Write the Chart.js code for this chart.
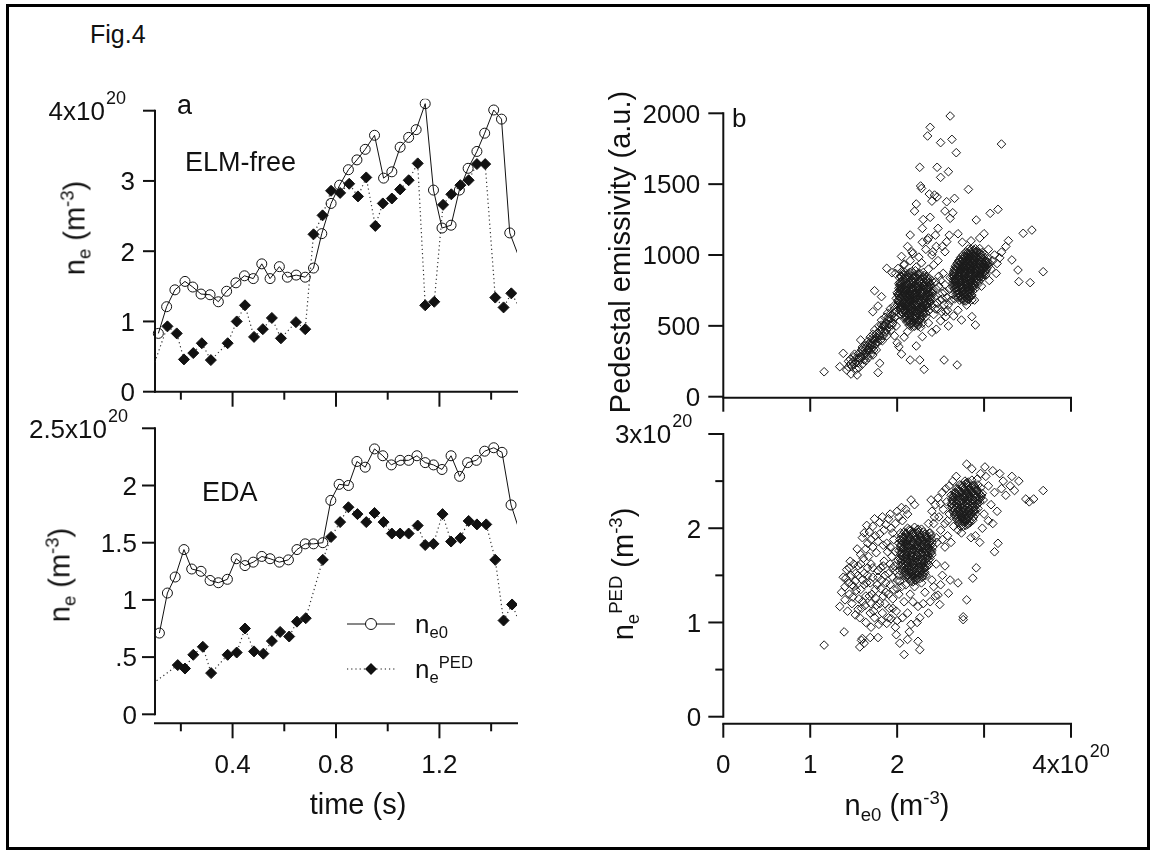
<!DOCTYPE html>
<html>
<head>
<meta charset="utf-8">
<script src="https://cdn.jsdelivr.net/npm/chart.js@4.4.1/dist/chart.umd.min.js"></script>
<style>
  html, body { margin: 0; padding: 0; background: #fff; }
  #fig { position: relative; width: 1157px; height: 859px; overflow: hidden;
         font-family: "Liberation Sans", Arial, sans-serif; color: #111; }
  #frame { position: absolute; left: 6px; top: 4px; width: 1144px; height: 846px;
           border: 3px solid #000; box-sizing: border-box; }
  canvas { position: absolute; }
  .t { position: absolute; white-space: nowrap; line-height: 1; }
  .t sub, .t sup { font-size: 0.64em; position: relative; vertical-align: baseline; line-height: 0; }
  .t sub { top: 0.3em; }
  .t sup { top: -0.62em; }
  .rot { transform: translate(-50%, -50%) rotate(-90deg); }
  .cx { transform: translateX(-50%); }
</style>
</head>
<body>
<div id="fig">
  <div id="frame"></div>
  <canvas id="cTL" width="560" height="330" style="left:0;top:80px"></canvas>
  <canvas id="cBL" width="560" height="420" style="left:0;top:400px"></canvas>
  <canvas id="cTR" width="580" height="340" style="left:560px;top:80px"></canvas>
  <canvas id="cBR" width="580" height="420" style="left:560px;top:400px"></canvas>

  <div class="t" style="left:90px;top:22px;font-size:25px">Fig.4</div>
  <div class="t" style="left:177px;top:92px;font-size:27px">a</div>
  <div class="t" style="left:185px;top:149px;font-size:27px">ELM-free</div>
  <div class="t" style="left:202px;top:479px;font-size:27px">EDA</div>
  <div class="t" style="left:732px;top:105px;font-size:26px">b</div>

  <div class="t rot" style="left:75px;top:228px;font-size:29px">n<sub>e</sub> (m<sup>-3</sup>)</div>
  <div class="t rot" style="left:60px;top:575px;font-size:29px">n<sub>e</sub> (m<sup>-3</sup>)</div>
  <div class="t rot" style="left:620px;top:252px;font-size:29px">Pedestal emissivity (a.u.)</div>
  <div class="t rot" style="left:623px;top:574px;font-size:29px">n<sub>e</sub><sup>PED</sup> (m<sup>-3</sup>)</div>

  <div class="t cx" style="left:358px;top:790px;font-size:29px">time (s)</div>
  <div class="t cx" style="left:897px;top:791px;font-size:29px">n<sub>e0</sub> (m<sup>-3</sup>)</div>

  <div class="t" style="left:415px;top:611px;font-size:26px">n<sub>e0</sub></div>
  <div class="t" style="left:415px;top:656px;font-size:26px">n<sub>e</sub><sup>PED</sup></div>
</div>

<script>
// --- Panel a, ELM-free ---
const elmNe0Time = [0.113,0.145,0.177,0.216,0.246,0.278,0.313,0.345,0.377,0.413,0.446,0.480,0.513,0.545,0.581,0.612,0.646,0.681,0.713,0.745,0.781,0.814,0.848,0.881,0.913,0.949,0.984,1.016,1.048,1.081,1.110,1.145,1.177,1.210,1.245,1.277,1.311,1.345,1.375,1.410,1.440,1.472,1.505];
const elmNe0 = [0.83,1.21,1.45,1.57,1.49,1.39,1.38,1.28,1.43,1.55,1.65,1.61,1.82,1.61,1.78,1.63,1.66,1.63,1.76,2.25,2.68,2.94,3.16,3.30,3.45,3.65,3.04,3.13,3.48,3.62,3.73,4.10,2.87,2.33,2.37,2.87,3.18,3.42,3.68,4.01,3.88,2.26,1.94];
const elmPedTime = [0.083,0.148,0.184,0.212,0.248,0.281,0.316,0.381,0.416,0.448,0.483,0.517,0.552,0.587,0.645,0.681,0.713,0.748,0.781,0.816,0.851,0.885,0.917,0.952,0.981,1.016,1.048,1.081,1.116,1.145,1.180,1.214,1.246,1.281,1.313,1.345,1.377,1.416,1.448,1.478,1.510];
const elmPed = [0.25,0.93,0.83,0.46,0.55,0.69,0.45,0.69,1.00,1.23,0.78,0.89,1.05,0.76,0.99,0.89,2.24,2.51,2.86,2.83,2.96,2.78,3.05,2.36,2.68,2.75,2.88,3.01,3.25,1.23,1.28,2.66,2.81,2.94,3.01,3.24,3.24,1.34,1.20,1.40,1.20];

// --- Panel a, EDA ---
const edaNe0Time = [0.117,0.148,0.178,0.212,0.242,0.278,0.313,0.345,0.380,0.414,0.448,0.480,0.513,0.545,0.581,0.616,0.649,0.681,0.713,0.749,0.780,0.812,0.848,0.881,0.913,0.949,0.981,1.014,1.048,1.081,1.113,1.145,1.177,1.210,1.245,1.278,1.309,1.343,1.375,1.410,1.442,1.477,1.510];
const edaNe0 = [0.71,1.06,1.20,1.44,1.27,1.25,1.17,1.15,1.18,1.36,1.30,1.33,1.38,1.36,1.33,1.35,1.44,1.49,1.49,1.50,1.87,2.01,2.00,2.21,2.16,2.32,2.26,2.18,2.22,2.22,2.26,2.20,2.18,2.14,2.26,2.08,2.20,2.22,2.30,2.33,2.29,1.83,1.60];
const edaPedTime = [0.080,0.188,0.216,0.248,0.285,0.317,0.381,0.416,0.448,0.483,0.519,0.552,0.584,0.619,0.649,0.683,0.749,0.781,0.816,0.848,0.883,0.917,0.949,0.984,1.016,1.048,1.081,1.116,1.145,1.177,1.212,1.245,1.281,1.313,1.345,1.381,1.416,1.448,1.481,1.510];
const edaPed = [0.25,0.43,0.40,0.52,0.59,0.36,0.52,0.54,0.75,0.55,0.53,0.64,0.72,0.68,0.81,0.84,1.35,1.55,1.68,1.81,1.75,1.68,1.76,1.68,1.58,1.58,1.58,1.65,1.48,1.49,1.75,1.51,1.54,1.69,1.66,1.66,1.35,0.82,0.96,0.80];

// --- Panel b, emissivity vs ne0 ([ne0 x1e20, a.u.]) ---
const emisTail = [[1.16,176],[1.34,212],[1.38,306],[1.42,188],[1.44,250],[1.47,160],[1.48,215],[1.50,280],[1.52,240],[1.54,153],[1.55,300],[1.56,205],[1.57,262],[1.58,400],[1.59,330],[1.60,230],[1.61,341],[1.62,290],[1.63,365],[1.64,255],[1.65,318],[1.66,390],[1.67,275],[1.68,345],[1.69,420],[1.70,300],[1.71,380],[1.72,440],[1.72,294],[1.73,355],[1.74,470],[1.75,410],[1.76,330],[1.77,450],[1.78,170],[1.78,385],[1.79,500],[1.80,236],[1.80,430],[1.81,470],[1.82,540],[1.83,395],[1.84,500],[1.85,455],[1.86,560],[1.87,520],[1.88,430],[1.89,590],[1.90,490],[1.91,545],[1.92,620],[1.93,470],[1.94,575],[1.95,520],[1.96,640],[1.97,560],[1.98,600],[1.99,500],[1.53,195],[1.46,230],[1.58,285],[1.63,310],[1.68,380],[1.74,395],[1.79,440],[1.85,505],[1.90,560],[1.70,360],[1.66,330],[1.76,420],[1.74,748],[1.82,706],[1.88,906],[1.94,875],[1.72,600],[1.78,640]];
const emisTailDense = [[1.46,265],[1.49,245],[1.51,300],[1.53,270],[1.55,240],[1.57,310],[1.59,280],[1.61,320],[1.62,260],[1.64,345],[1.65,290],[1.67,330],[1.69,365],[1.70,330],[1.72,400],[1.73,330],[1.75,370],[1.76,440],[1.78,410],[1.80,460],[1.81,400],[1.83,480],[1.84,430],[1.86,500],[1.88,470],[1.89,540],[1.91,510],[1.93,550],[1.94,505],[1.96,590],[1.98,560],[1.60,350],[1.56,275],[1.66,360],[1.71,410],[1.77,390],[1.82,505],[1.87,455],[1.92,585],[1.97,620],[1.50,225],[1.44,210]];
const emisCore1 = [[2.05,882],[2.13,870],[2.21,889],[2.30,876],[2.08,858],[2.17,851],[2.25,862],[2.34,848],[2.03,838],[2.11,832],[2.19,842],[2.28,829],[2.37,836],[2.06,815],[2.14,809],[2.22,821],[2.31,812],[2.40,818],[2.02,797],[2.09,790],[2.16,801],[2.21,786],[2.28,795],[2.35,789],[2.05,772],[2.12,779],[2.18,768],[2.25,776],[2.32,770],[2.38,781],[2.03,752],[2.08,760],[2.15,748],[2.20,757],[2.27,745],[2.33,754],[2.41,748],[2.00,733],[2.06,740],[2.12,728],[2.17,737],[2.23,731],[2.29,726],[2.36,738],[2.02,713],[2.09,719],[2.15,708],[2.20,716],[2.26,703],[2.32,712],[2.39,706],[1.99,694],[2.05,688],[2.11,697],[2.17,685],[2.22,692],[2.28,680],[2.35,689],[2.02,671],[2.08,665],[2.14,674],[2.19,661],[2.25,668],[2.31,659],[2.38,666],[2.00,648],[2.05,641],[2.11,652],[2.16,638],[2.22,645],[2.28,636],[2.34,647],[2.03,625],[2.08,618],[2.13,629],[2.19,615],[2.25,622],[2.31,612],[2.05,600],[2.10,594],[2.16,604],[2.22,591],[2.28,598],[2.36,605],[2.04,578],[2.10,571],[2.15,582],[2.21,568],[2.27,575],[2.33,566],[2.08,553],[2.13,546],[2.19,556],[2.25,543],[2.11,528],[2.17,521],[2.23,530],[2.29,518],[2.14,504],[2.20,497],[2.27,489],[2.07,705],[2.18,722],[2.24,760],[2.13,785],[2.29,742],[2.10,640],[2.20,655],[2.30,690],[2.15,590],[2.24,610],[2.06,760],[2.33,800],[2.19,830],[2.12,700],[2.26,720]];
const emisCore1b = [[2.09,876],[2.17,882],[2.26,870],[2.04,852],[2.12,845],[2.21,856],[2.30,842],[2.07,826],[2.15,820],[2.24,834],[2.33,824],[2.03,806],[2.10,802],[2.18,814],[2.26,806],[2.35,810],[2.06,784],[2.13,792],[2.19,778],[2.24,796],[2.31,782],[2.38,795],[2.02,765],[2.09,770],[2.15,762],[2.22,768],[2.29,760],[2.35,770],[2.05,745],[2.11,753],[2.18,744],[2.24,750],[2.30,736],[2.38,742],[2.03,726],[2.09,732],[2.14,720],[2.20,728],[2.26,738],[2.33,722],[2.40,730],[2.04,700],[2.10,710],[2.16,696],[2.21,704],[2.27,712],[2.33,698],[2.38,716],[2.02,682],[2.08,676],[2.13,686],[2.19,673],[2.25,682],[2.31,672],[2.37,680],[2.03,658],[2.09,654],[2.14,662],[2.20,648],[2.26,656],[2.32,650],[2.36,658],[2.06,632],[2.11,636],[2.17,626],[2.22,634],[2.28,624],[2.34,630],[2.08,608],[2.13,612],[2.19,600],[2.25,606],[2.31,596],[2.07,588],[2.12,584],[2.18,592],[2.24,578],[2.30,586],[2.10,562],[2.16,566],[2.22,556],[2.28,560],[2.13,538],[2.20,542],[2.26,532],[2.17,512],[2.24,510]];
const emisCore1c = [[2.07,866],[2.15,878],[2.24,866],[2.05,845],[2.13,858],[2.22,840],[2.31,855],[2.09,838],[2.17,826],[2.26,816],[2.35,830],[2.04,812],[2.12,798],[2.20,808],[2.29,800],[2.37,806],[2.03,784],[2.11,768],[2.17,790],[2.23,780],[2.30,788],[2.36,776],[2.04,764],[2.10,752],[2.17,758],[2.23,744],[2.30,752],[2.36,760],[2.02,742],[2.08,730],[2.14,738],[2.21,724],[2.27,734],[2.34,728],[2.40,740],[2.01,722],[2.07,712],[2.13,716],[2.18,704],[2.24,714],[2.30,702],[2.37,722],[2.03,700],[2.09,690],[2.15,694],[2.20,684],[2.26,690],[2.33,676],[2.39,690],[2.01,680],[2.06,660],[2.12,666],[2.17,652],[2.23,660],[2.29,646],[2.35,658],[2.02,636],[2.07,628],[2.12,640],[2.18,626],[2.23,636],[2.29,620],[2.35,634],[2.04,612],[2.09,604],[2.15,616],[2.21,602],[2.27,612],[2.33,590],[2.06,590],[2.12,578],[2.17,572],[2.23,586],[2.29,570],[2.09,560],[2.15,552],[2.21,566],[2.27,548],[2.12,536],[2.18,530],[2.24,540],[2.15,516],[2.22,520],[2.18,496],[2.24,500]];
const emisAbove = [[2.01,905],[2.08,930],[2.15,960],[2.22,915],[2.28,945],[2.36,900],[2.42,930],[2.05,990],[2.18,1010],[2.25,985],[2.33,1040],[2.40,1000],[2.12,1060],[2.29,1090],[2.36,1120],[2.45,1060],[2.17,1023],[2.41,1023],[2.55,1023],[2.57,1094],[2.35,1106],[2.29,1188],[2.15,1141],[2.08,936],[1.98,870],[2.47,960],[2.52,1060],[2.44,1140]];
const emisBridge = [[2.40,640],[2.43,700],[2.45,760],[2.47,620],[2.49,680],[2.50,820],[2.52,730],[2.54,650],[2.55,790],[2.57,700],[2.58,610],[2.60,760],[2.61,840],[2.62,680],[2.64,720],[2.44,810],[2.48,850],[2.53,870],[2.56,600],[2.42,580],[2.46,660],[2.51,600],[2.59,650],[2.63,780],[2.41,730],[2.48,780],[2.55,740],[2.66,690],[2.44,620],[2.52,690]];
const emisCore2 = [[2.82,1042],[2.88,1036],[2.95,1045],[2.79,1022],[2.85,1016],[2.91,1025],[2.98,1018],[2.76,1002],[2.82,996],[2.88,1004],[2.94,995],[3.01,1003],[2.73,982],[2.79,976],[2.85,985],[2.91,977],[2.97,984],[3.04,975],[2.71,961],[2.77,955],[2.83,964],[2.89,956],[2.95,963],[3.02,954],[2.69,942],[2.75,936],[2.81,945],[2.87,937],[2.93,944],[3.00,935],[3.06,943],[2.67,921],[2.73,915],[2.79,924],[2.85,916],[2.91,923],[2.98,914],[3.05,922],[2.66,902],[2.72,896],[2.78,905],[2.84,897],[2.90,904],[2.96,895],[3.03,903],[2.65,881],[2.71,875],[2.77,884],[2.83,876],[2.89,883],[2.95,874],[3.01,882],[2.64,861],[2.70,855],[2.76,864],[2.82,856],[2.88,863],[2.94,854],[3.00,862],[2.64,841],[2.69,835],[2.75,844],[2.81,836],[2.87,843],[2.93,834],[2.98,842],[2.65,821],[2.70,815],[2.76,824],[2.82,816],[2.88,823],[2.94,814],[2.64,801],[2.70,795],[2.76,804],[2.82,796],[2.87,803],[2.93,794],[2.65,781],[2.71,775],[2.77,784],[2.83,776],[2.89,783],[2.66,761],[2.72,755],[2.78,764],[2.84,756],[2.90,763],[2.67,741],[2.73,735],[2.79,744],[2.85,736],[2.68,721],[2.74,715],[2.80,724],[2.86,716],[2.70,701],[2.76,695],[2.82,704],[2.72,681],[2.79,675],[2.86,684],[3.08,900],[3.10,960],[3.12,1000],[3.05,1040],[3.15,940],[3.18,980],[3.02,860],[3.06,820],[2.97,780],[3.20,1020],[3.25,1060],[3.14,870]];
const emisCore2b = [[2.85,1040],[2.92,1030],[2.82,1010],[2.88,1020],[2.95,1012],[2.79,990],[2.85,994],[2.91,990],[2.98,998],[2.76,970],[2.82,972],[2.88,968],[2.94,972],[3.00,966],[2.74,950],[2.80,952],[2.86,948],[2.92,952],[2.98,946],[3.04,952],[2.72,930],[2.78,932],[2.84,928],[2.90,932],[2.96,926],[3.02,932],[2.70,910],[2.76,912],[2.82,908],[2.88,912],[2.94,906],[3.00,912],[2.68,890],[2.74,892],[2.80,888],[2.86,892],[2.92,886],[2.98,892],[2.67,870],[2.73,868],[2.79,872],[2.85,866],[2.91,872],[2.97,866],[2.66,850],[2.72,848],[2.78,852],[2.84,846],[2.90,852],[2.96,846],[2.67,830],[2.73,828],[2.79,832],[2.85,826],[2.91,832],[2.67,810],[2.73,808],[2.79,812],[2.85,806],[2.90,812],[2.68,790],[2.74,788],[2.80,792],[2.86,786],[2.69,770],[2.75,768],[2.81,772],[2.87,766],[2.70,750],[2.76,748],[2.82,752],[2.71,730],[2.77,728],[2.83,732],[2.73,710],[2.79,708],[2.85,712],[2.75,690],[2.82,688]];
const emisCore2c = [[2.84,1030],[2.90,1044],[2.80,1012],[2.86,1006],[2.93,1016],[2.77,990],[2.83,984],[2.89,994],[2.96,986],[2.75,970],[2.81,964],[2.87,976],[2.93,966],[2.99,976],[2.72,952],[2.78,944],[2.84,956],[2.90,946],[2.96,954],[3.02,944],[2.70,930],[2.76,924],[2.82,934],[2.88,926],[2.94,934],[3.00,924],[3.04,932],[2.68,912],[2.74,904],[2.80,914],[2.86,906],[2.92,914],[2.98,904],[3.02,914],[2.66,890],[2.72,884],[2.78,894],[2.84,886],[2.90,894],[2.96,884],[3.02,892],[2.65,870],[2.71,864],[2.77,874],[2.83,866],[2.89,874],[2.95,864],[2.99,872],[2.65,850],[2.71,844],[2.77,854],[2.83,846],[2.89,854],[2.95,844],[2.66,830],[2.72,824],[2.78,834],[2.84,826],[2.90,834],[2.92,822],[2.66,810],[2.72,804],[2.78,814],[2.84,806],[2.89,792],[2.67,790],[2.73,784],[2.79,794],[2.85,786],[2.68,770],[2.74,764],[2.80,774],[2.86,776],[2.69,750],[2.75,744],[2.81,756],[2.87,746],[2.70,730],[2.76,724],[2.82,736],[2.72,712],[2.78,704],[2.84,700],[2.74,690],[2.80,696],[2.77,676]];
const emisSpread = [[2.61,1981],[2.38,1901],[2.35,1840],[2.50,1793],[2.63,1816],[2.68,1722],[3.20,1783],[2.26,1619],[2.46,1619],[2.50,1548],[2.59,1588],[2.27,1487],[2.37,1430],[2.43,1423],[2.57,1376],[2.66,1400],[2.82,1463],[2.22,1360],[2.20,1310],[2.64,1298],[2.61,1259],[2.38,1266],[2.47,1188],[2.91,1247],[3.07,1294],[3.16,1322],[3.45,1153],[3.55,1176],[3.28,1101],[3.32,965],[3.68,882],[3.39,894],[3.40,812],[3.53,805],[2.40,1380],[2.46,1410],[2.55,1310],[2.30,1250],[2.70,1150],[2.75,1090],[2.60,1140],[2.85,1100],[2.95,1120],[3.00,1150],[2.28,1470],[2.02,353],[2.05,301],[2.15,259],[2.26,259],[2.31,193],[2.54,259],[2.69,224],[2.22,358],[2.29,424],[2.45,476],[2.59,499],[2.74,541],[2.90,506],[2.86,565],[2.89,682],[2.80,647],[1.97,430],[2.08,420],[2.36,520],[2.50,535],[2.65,570],[2.40,455],[2.56,565],[2.70,610],[2.12,460],[2.00,380]];

// --- Panel b, ne_PED vs ne0 ([ne0, nePED] x1e20) ---
const pedCore1 = [[2.12,2.00],[2.20,2.01],[2.28,1.99],[2.08,1.96],[2.15,1.97],[2.22,1.95],[2.30,1.96],[2.37,1.95],[2.05,1.92],[2.11,1.91],[2.18,1.93],[2.25,1.92],[2.32,1.91],[2.39,1.92],[2.03,1.88],[2.09,1.87],[2.15,1.89],[2.21,1.88],[2.27,1.87],[2.34,1.89],[2.40,1.88],[2.02,1.84],[2.07,1.85],[2.13,1.83],[2.19,1.84],[2.25,1.85],[2.31,1.83],[2.37,1.84],[2.04,1.80],[2.10,1.81],[2.16,1.79],[2.22,1.80],[2.28,1.81],[2.35,1.79],[2.41,1.80],[2.02,1.76],[2.08,1.77],[2.14,1.75],[2.20,1.76],[2.26,1.77],[2.32,1.75],[2.38,1.76],[2.04,1.72],[2.10,1.73],[2.16,1.71],[2.22,1.72],[2.28,1.73],[2.34,1.71],[2.40,1.72],[2.03,1.68],[2.09,1.69],[2.15,1.67],[2.21,1.68],[2.27,1.69],[2.33,1.67],[2.38,1.68],[2.05,1.64],[2.11,1.65],[2.17,1.63],[2.23,1.64],[2.29,1.65],[2.35,1.63],[2.04,1.60],[2.10,1.61],[2.16,1.59],[2.22,1.60],[2.28,1.61],[2.34,1.59],[2.06,1.56],[2.12,1.57],[2.18,1.55],[2.24,1.56],[2.30,1.57],[2.08,1.52],[2.14,1.53],[2.20,1.51],[2.26,1.52],[2.32,1.53],[2.11,1.48],[2.17,1.49],[2.23,1.47],[2.29,1.48],[2.15,1.44],[2.21,1.45]];
const pedCore1b = [[2.16,1.98],[2.24,1.99],[2.11,1.94],[2.18,1.95],[2.26,1.94],[2.34,1.93],[2.08,1.90],[2.14,1.90],[2.21,1.91],[2.28,1.90],[2.35,1.90],[2.05,1.86],[2.12,1.86],[2.18,1.85],[2.24,1.86],[2.30,1.86],[2.37,1.86],[2.04,1.82],[2.10,1.83],[2.16,1.82],[2.22,1.82],[2.28,1.83],[2.34,1.82],[2.39,1.82],[2.07,1.78],[2.13,1.79],[2.19,1.78],[2.25,1.78],[2.31,1.79],[2.37,1.78],[2.05,1.74],[2.11,1.75],[2.17,1.74],[2.23,1.74],[2.29,1.75],[2.35,1.74],[2.06,1.70],[2.12,1.71],[2.18,1.70],[2.24,1.70],[2.30,1.71],[2.36,1.70],[2.06,1.66],[2.12,1.67],[2.18,1.66],[2.24,1.66],[2.30,1.67],[2.36,1.66],[2.07,1.62],[2.13,1.63],[2.19,1.62],[2.25,1.62],[2.31,1.63],[2.08,1.58],[2.14,1.58],[2.20,1.57],[2.26,1.58],[2.32,1.58],[2.10,1.54],[2.16,1.54],[2.22,1.53],[2.28,1.54],[2.12,1.50],[2.18,1.50],[2.24,1.50],[2.30,1.50],[2.17,1.46],[2.23,1.46]];
const pedCore1c = [[2.14,1.985],[2.23,1.975],[2.10,1.945],[2.17,1.935],[2.25,1.955],[2.32,1.94],[2.07,1.905],[2.14,1.915],[2.20,1.90],[2.27,1.91],[2.34,1.905],[2.06,1.865],[2.12,1.875],[2.18,1.86],[2.24,1.87],[2.30,1.875],[2.36,1.87],[2.05,1.825],[2.11,1.83],[2.17,1.815],[2.23,1.83],[2.29,1.82],[2.35,1.83],[2.40,1.845],[2.06,1.785],[2.12,1.79],[2.18,1.775],[2.24,1.79],[2.30,1.78],[2.36,1.79],[2.40,1.765],[2.04,1.745],[2.10,1.755],[2.16,1.74],[2.22,1.755],[2.28,1.745],[2.34,1.755],[2.39,1.74],[2.05,1.705],[2.11,1.715],[2.17,1.70],[2.23,1.715],[2.29,1.705],[2.35,1.715],[2.04,1.665],[2.10,1.675],[2.16,1.66],[2.22,1.675],[2.28,1.665],[2.34,1.675],[2.06,1.625],[2.12,1.635],[2.18,1.62],[2.24,1.635],[2.30,1.625],[2.36,1.61],[2.07,1.585],[2.13,1.595],[2.19,1.58],[2.25,1.595],[2.31,1.585],[2.09,1.545],[2.15,1.555],[2.21,1.54],[2.27,1.555],[2.31,1.54],[2.11,1.505],[2.17,1.515],[2.23,1.50],[2.28,1.51],[2.14,1.465],[2.20,1.475],[2.26,1.465],[2.18,1.43]];
const pedCore2 = [[2.78,2.50],[2.86,2.51],[2.72,2.46],[2.79,2.47],[2.86,2.45],[2.93,2.46],[2.68,2.42],[2.75,2.43],[2.82,2.41],[2.89,2.42],[2.96,2.43],[2.66,2.38],[2.72,2.39],[2.79,2.37],[2.85,2.38],[2.92,2.39],[2.98,2.37],[2.64,2.34],[2.70,2.35],[2.76,2.33],[2.83,2.34],[2.89,2.35],[2.95,2.33],[2.63,2.30],[2.69,2.31],[2.75,2.29],[2.81,2.30],[2.87,2.31],[2.93,2.29],[2.99,2.30],[2.62,2.26],[2.68,2.27],[2.74,2.25],[2.80,2.26],[2.86,2.27],[2.92,2.25],[2.63,2.22],[2.69,2.23],[2.75,2.21],[2.81,2.22],[2.87,2.23],[2.93,2.21],[2.64,2.18],[2.70,2.19],[2.76,2.17],[2.82,2.18],[2.88,2.19],[2.66,2.14],[2.72,2.15],[2.78,2.13],[2.84,2.14],[2.90,2.15],[2.68,2.10],[2.74,2.11],[2.80,2.09],[2.86,2.10],[2.70,2.06],[2.76,2.07],[2.82,2.05],[2.73,2.02],[2.79,2.03]];
const pedCore2b = [[2.82,2.49],[2.75,2.44],[2.82,2.44],[2.89,2.44],[2.71,2.40],[2.78,2.40],[2.85,2.40],[2.92,2.40],[2.68,2.36],[2.75,2.36],[2.82,2.36],[2.88,2.36],[2.95,2.36],[2.66,2.32],[2.72,2.32],[2.78,2.32],[2.84,2.32],[2.90,2.32],[2.96,2.32],[2.65,2.28],[2.71,2.28],[2.77,2.28],[2.83,2.28],[2.89,2.28],[2.95,2.28],[2.65,2.24],[2.71,2.24],[2.77,2.24],[2.83,2.24],[2.89,2.24],[2.66,2.20],[2.72,2.20],[2.78,2.20],[2.84,2.20],[2.90,2.20],[2.68,2.16],[2.74,2.16],[2.80,2.16],[2.86,2.16],[2.70,2.12],[2.76,2.12],[2.82,2.12],[2.88,2.12],[2.72,2.08],[2.78,2.08],[2.84,2.08],[2.75,2.04],[2.81,2.04]];
const pedCore2c = [[2.80,2.485],[2.74,2.455],[2.81,2.46],[2.88,2.455],[2.70,2.415],[2.77,2.42],[2.84,2.415],[2.91,2.42],[2.67,2.375],[2.74,2.38],[2.81,2.375],[2.87,2.38],[2.94,2.375],[2.65,2.335],[2.71,2.34],[2.78,2.335],[2.84,2.34],[2.91,2.335],[2.97,2.345],[2.64,2.295],[2.70,2.30],[2.76,2.295],[2.82,2.30],[2.88,2.295],[2.94,2.305],[2.63,2.255],[2.69,2.26],[2.75,2.255],[2.81,2.26],[2.87,2.255],[2.93,2.265],[2.64,2.215],[2.70,2.22],[2.76,2.215],[2.82,2.22],[2.88,2.215],[2.65,2.175],[2.71,2.18],[2.77,2.175],[2.83,2.18],[2.89,2.175],[2.67,2.135],[2.73,2.14],[2.79,2.135],[2.85,2.14],[2.69,2.095],[2.75,2.10],[2.81,2.095],[2.87,2.085],[2.72,2.055],[2.78,2.06],[2.84,2.06],[2.76,2.02]];
const pedBand = [[2.38,1.95],[2.42,2.05],[2.45,1.90],[2.48,2.12],[2.50,1.98],[2.53,2.20],[2.55,2.05],[2.58,1.92],[2.60,2.15],[2.62,2.35],[2.40,2.18],[2.44,2.25],[2.47,2.32],[2.52,2.38],[2.57,2.28],[2.46,1.85],[2.52,1.88],[2.56,2.42],[2.60,2.45],[2.65,2.02],[2.70,1.98],[2.43,2.12],[2.36,2.05],[2.39,2.30],[2.50,2.26],[2.58,2.08],[2.64,2.50],[2.68,2.55],[2.74,1.95],[2.55,1.80],[2.62,1.85]];
const pedLeftHigh = [[1.65,2.03],[1.72,2.02],[1.68,1.96],[1.75,1.92],[1.80,2.06],[1.85,1.98],[1.90,2.10],[1.92,2.15],[1.95,1.95],[1.98,2.05],[2.02,2.12],[2.06,2.08],[2.10,2.20],[2.16,2.30],[2.20,2.25],[1.78,1.86],[1.83,2.12],[1.88,1.84],[1.70,1.88],[1.62,1.95],[1.74,2.10],[1.96,1.88],[2.00,2.18],[1.87,2.04],[1.93,2.00],[2.12,2.15],[1.60,1.90],[1.66,1.84],[2.05,2.22],[1.80,1.94]];
const pedLeftLow = [[1.42,1.56],[1.34,1.17],[1.40,1.38],[1.45,1.30],[1.49,1.27],[1.59,1.15],[1.74,1.05],[1.93,1.04],[1.88,0.99],[1.47,1.50],[1.52,1.44],[1.55,1.60],[1.58,1.35],[1.62,1.52],[1.65,1.42],[1.68,1.28],[1.70,1.62],[1.72,1.48],[1.75,1.35],[1.78,1.55],[1.80,1.20],[1.82,1.45],[1.85,1.65],[1.87,1.32],[1.90,1.52],[1.92,1.40],[1.95,1.25],[1.97,1.60],[2.00,1.45],[2.02,1.30],[2.05,1.38],[2.08,1.22],[1.50,1.62],[1.56,1.25],[1.63,1.18],[1.67,1.70],[1.73,1.12],[1.77,1.40],[1.83,1.10],[1.86,1.50],[1.91,1.15],[1.94,1.70],[1.99,1.12],[2.03,1.55],[1.44,1.42],[1.53,1.34],[1.60,1.45],[1.66,1.58],[1.71,1.30],[1.76,1.74],[1.81,1.58],[1.89,1.75],[1.96,1.35],[2.01,1.66],[1.48,1.20],[1.57,1.05],[1.64,1.00],[1.69,1.10],[1.79,0.98],[1.84,1.28],[1.98,0.95],[2.06,1.05],[1.61,1.68],[1.54,1.78],[1.46,1.65],[1.38,1.48],[1.36,1.32],[1.43,1.12],[1.52,1.08],[1.70,0.95],[1.41,1.47],[1.45,1.58],[1.50,1.38],[1.55,1.50],[1.58,1.62],[1.62,1.40],[1.66,1.50],[1.69,1.42],[1.72,1.58],[1.75,1.26],[1.78,1.48],[1.81,1.36],[1.84,1.60],[1.87,1.42],[1.90,1.30],[1.92,1.62],[1.95,1.48],[1.98,1.55],[2.00,1.36],[2.03,1.44],[1.86,1.20],[1.90,1.05],[1.95,1.15],[2.00,1.02],[1.82,1.02],[1.76,1.18],[1.70,1.20],[1.64,1.28],[1.60,1.22],[1.55,1.14],[1.52,1.52],[1.48,1.40],[1.40,1.24],[1.58,1.72],[1.64,1.78],[1.72,1.80],[1.84,1.82],[1.92,1.80],[1.98,1.75],[2.04,1.95],[1.95,1.58],[2.02,1.50]];
const pedSpread = [[1.16,0.76],[1.39,0.90],[1.59,0.81],[1.57,0.74],[1.62,0.78],[1.69,0.84],[1.78,0.84],[2.08,0.66],[2.26,0.71],[2.24,0.80],[2.03,0.78],[1.99,0.87],[2.14,0.90],[2.23,1.00],[2.76,1.06],[2.76,1.03],[2.91,1.58],[2.87,1.47],[3.12,1.75],[3.16,1.84],[1.60,0.83],[2.12,0.82],[2.47,1.29],[2.59,1.31],[2.70,1.42],[2.80,1.24],[2.61,1.45],[2.38,1.22],[2.49,1.19],[2.36,1.10],[2.24,1.17],[2.18,1.22],[2.10,1.40],[2.15,1.30],[2.20,1.38],[2.28,1.42],[2.32,1.32],[2.40,1.45],[2.12,1.10],[2.30,1.20],[2.08,1.50],[2.42,1.38],[2.26,1.05],[2.16,0.98],[2.33,1.50],[2.44,1.28],[2.52,1.50],[2.55,1.60],[2.45,1.62],[2.50,1.40],[3.68,2.40],[3.57,2.31],[3.48,2.31],[3.52,2.28],[3.40,2.50],[3.32,2.55],[3.01,2.65],[2.80,2.68],[2.86,2.63],[3.10,2.61],[3.18,2.58],[3.05,2.45],[3.12,2.38],[3.20,2.42],[3.25,2.35],[3.08,2.25],[3.15,2.18],[3.00,2.15],[3.02,2.55],[3.30,2.45],[2.96,2.58],[3.22,2.50],[2.92,2.52],[3.35,2.40],[3.05,2.08],[2.98,2.00],[3.10,2.05],[2.90,1.92],[2.95,1.85],[2.85,1.90]];

// --- Ticks ---
const timeTicks = [0.2,0.4,0.6,0.8,1.0,1.2,1.4];
const timeMajor = [0.4,0.8,1.2];
const timeLabels = ['','0.4','','0.8','','1.2',''];
const elmTicks = [0,1,2,3,4];
const elmLabels = ['0','1','2','3','4x10^20'];
const edaTicks = [0,0.5,1,1.5,2,2.5];
const edaLabels = ['0','.5','1','1.5','2','2.5x10^20'];
const emisTicks = [0,500,1000,1500,2000];
const emisLabels = ['0','500','1000','1500','2000'];
const ne0Ticks = [0,1,2,3,4];
const ne0Labels = ['0','1','2','','4x10^20'];
const pedTicks = [0,0.5,1,1.5,2,2.5,3];
const pedMajor = [0,1,2,3];
const pedLabels = ['0','','1','','2','','3x10^20'];

const FONT = '"Liberation Sans", Arial, sans-serif';
const INK = '#111';

function seg(ctx, x1, y1, x2, y2) {
  ctx.beginPath();
  ctx.moveTo(x1, y1);
  ctx.lineTo(x2, y2);
  ctx.stroke();
}

// label like "4x10^20" -> base text plus raised exponent
function tickText(ctx, text, x, y, align) {
  const parts = text.split('^');
  ctx.font = '26px ' + FONT;
  const wb = ctx.measureText(parts[0]).width;
  let we = 0;
  if (parts[1]) {
    ctx.font = '18px ' + FONT;
    we = ctx.measureText(parts[1]).width + 1;
  }
  const x0 = align === 'right' ? x - wb - we - (parts[1] ? 9 : 0) : x - (wb + we) / 2;
  ctx.textAlign = 'left';
  ctx.textBaseline = 'alphabetic';
  ctx.font = '26px ' + FONT;
  ctx.fillText(parts[0], x0, y);
  if (parts[1]) {
    ctx.font = '18px ' + FONT;
    ctx.fillText(parts[1], x0 + wb + 1, y - 16);
  }
}

// --- Old-style axes: line, outward ticks, labels ---
const oldAxes = {
  id: 'oldAxes',
  beforeDatasetsDraw(chart, args, o) {
    const { ctx, chartArea: a, scales: { x, y } } = chart;
    ctx.save();
    ctx.strokeStyle = INK;
    ctx.fillStyle = INK;
    ctx.lineWidth = 2;

    // y axis
    seg(ctx, a.left, y.getPixelForValue(y.min) + 1, a.left, y.getPixelForValue(y.max) - 1);
    y.ticks.forEach((t, i) => {
      const py = y.getPixelForValue(t.value);
      const major = !o.yMajor || o.yMajor.includes(t.value);
      seg(ctx, a.left - (major ? o.yLen : 8), py, a.left, py);
      const lab = o.yLabels[i];
      if (lab) tickText(ctx, lab, a.left - o.yGap, py + 9.3, 'right');
    });

    // x axis (may sit a little below the chart area)
    const xa = a.bottom + o.xOff;
    seg(ctx, x.getPixelForValue(x.min) - 1, xa, x.getPixelForValue(x.max) + 1, xa);
    x.ticks.forEach((t, i) => {
      const px = x.getPixelForValue(t.value);
      const major = !o.xMajor || o.xMajor.includes(t.value);
      seg(ctx, px, xa, px, xa + (major ? o.xLen : 8));
      const lab = o.xLabels && o.xLabels[i];
      if (lab) tickText(ctx, lab, px, xa + o.xBase, 'center');
    });
    ctx.restore();
  }
};

// --- Legend symbols for the EDA panel ---
const legendMarks = {
  id: 'legendMarks',
  afterDraw(chart) {
    const ctx = chart.ctx;
    ctx.save();
    ctx.strokeStyle = INK;
    ctx.fillStyle = INK;
    ctx.lineWidth = 1;
    seg(ctx, 347, 224, 395, 224);
    ctx.beginPath();
    ctx.arc(371, 224, 5.5, 0, Math.PI * 2);
    ctx.fillStyle = '#fff';
    ctx.fill();
    ctx.stroke();
    ctx.setLineDash([1.2, 3]);
    seg(ctx, 347, 269, 395, 269);
    ctx.setLineDash([]);
    ctx.fillStyle = INK;
    ctx.beginPath();
    ctx.moveTo(365, 269); ctx.lineTo(371, 263); ctx.lineTo(377, 269); ctx.lineTo(371, 275);
    ctx.closePath();
    ctx.fill();
    ctx.restore();
  }
};

const toXY = (xs, ys) => xs.map((v, i) => ({ x: v, y: ys[i] }));
const pairsXY = arr => arr.map(p => ({ x: p[0], y: p[1] }));
const inTime = c => c.raw && c.raw.x >= 0.1 && c.raw.x <= 1.5;

function ne0Set(xs, ys) {
  return {
    data: toXY(xs, ys),
    borderColor: INK, borderWidth: 1, tension: 0,
    pointStyle: 'circle', pointRadius: c => inTime(c) ? 5 : 0, pointHoverRadius: 10,
    pointBorderColor: INK, pointBorderWidth: 1, pointBackgroundColor: 'rgba(0,0,0,0)',
    clip: { left: 8, right: 0, top: 12, bottom: 8 }
  };
}

function pedSet(xs, ys) {
  return {
    data: toXY(xs, ys),
    borderColor: '#333', borderWidth: 1.2, borderDash: [1.2, 3], tension: 0,
    pointStyle: 'rectRot', pointRadius: c => inTime(c) ? 5.5 : 0, pointHoverRadius: 10,
    pointBorderColor: INK, pointBorderWidth: 1, pointBackgroundColor: INK,
    clip: { left: 0, right: 0, top: 12, bottom: 8 }
  };
}

function scatterSet(arr) {
  return {
    data: pairsXY(arr),
    pointStyle: 'rectRot', pointRadius: 4.3,
    pointBorderColor: '#1a1a1a', pointBorderWidth: 1, pointBackgroundColor: 'rgba(0,0,0,0)',
    clip: false
  };
}

function makeChart(id, type, datasets, box, xr, yr, xTicks, yTicks, axes, extra) {
  return new Chart(document.getElementById(id), {
    type: type,
    data: { datasets: datasets },
    options: {
      responsive: false,
      animation: false,
      events: [],
      layout: { padding: { top: box.top, right: box.right, left: 0, bottom: 0 } },
      plugins: { legend: { display: false }, tooltip: { enabled: false }, oldAxes: axes },
      scales: {
        x: {
          type: 'linear', min: xr[0], max: xr[1],
          grid: { display: false }, border: { display: false }, ticks: { display: false },
          afterBuildTicks: s => { s.ticks = xTicks.map(v => ({ value: v })); },
          afterFit: s => { s.height = box.bottom; }
        },
        y: {
          type: 'linear', min: yr[0], max: yr[1],
          grid: { display: false }, border: { display: false }, ticks: { display: false },
          afterBuildTicks: s => { s.ticks = yTicks.map(v => ({ value: v })); },
          afterFit: s => { s.width = box.left; }
        }
      }
    },
    plugins: [oldAxes].concat(extra || [])
  });
}

// --- Panel a, top: ELM-free ---
makeChart('cTL', 'line',
  [ne0Set(elmNe0Time, elmNe0), pedSet(elmPedTime, elmPed)],
  { left: 155, top: 30.7, right: 43, bottom: 18.3 },
  [0.1, 1.5], [0, 4], timeTicks, elmTicks,
  { yLabels: elmLabels, yLen: 12, yGap: 20, xMajor: timeMajor, xLen: 15, xOff: 0, xLabels: null });

// --- Panel a, bottom: EDA ---
makeChart('cBL', 'line',
  [ne0Set(edaNe0Time, edaNe0), pedSet(edaPedTime, edaPed)],
  { left: 155, top: 28.3, right: 43, bottom: 105.7 },
  [0.1, 1.5], [0, 2.5], timeTicks, edaTicks,
  { yLabels: edaLabels, yLen: 13, yGap: 18, xMajor: timeMajor, xLen: 15, xOff: 9, xLabels: timeLabels, xBase: 50 },
  [legendMarks]);

// --- Panel b, top: pedestal emissivity ---
makeChart('cTR', 'scatter',
  [emisTail, emisTailDense, emisCore1, emisCore1b, emisCore1c, emisAbove, emisBridge, emisCore2, emisCore2b, emisCore2c, emisSpread].map(scatterSet),
  { left: 163.3, top: 33.3, right: 69, bottom: 23.3 },
  [0, 4], [0, 2000], ne0Ticks, emisTicks,
  { yLabels: emisLabels, yLen: 15, yGap: 23, xLen: 14, xOff: 1, xLabels: null });

// --- Panel b, bottom: pedestal density ---
makeChart('cBR', 'scatter',
  [pedLeftLow, pedLeftHigh, pedCore1, pedCore1b, pedCore1c, pedBand, pedCore2, pedCore2b, pedCore2c, pedSpread].map(scatterSet),
  { left: 163.3, top: 34, right: 69, bottom: 103.3 },
  [0, 4], [0, 3], ne0Ticks, pedTicks,
  { yLabels: pedLabels, yMajor: pedMajor, yLen: 15, yGap: 22, xLen: 14, xOff: 7, xLabels: ne0Labels, xBase: 49 });
</script>
</body>
</html>
